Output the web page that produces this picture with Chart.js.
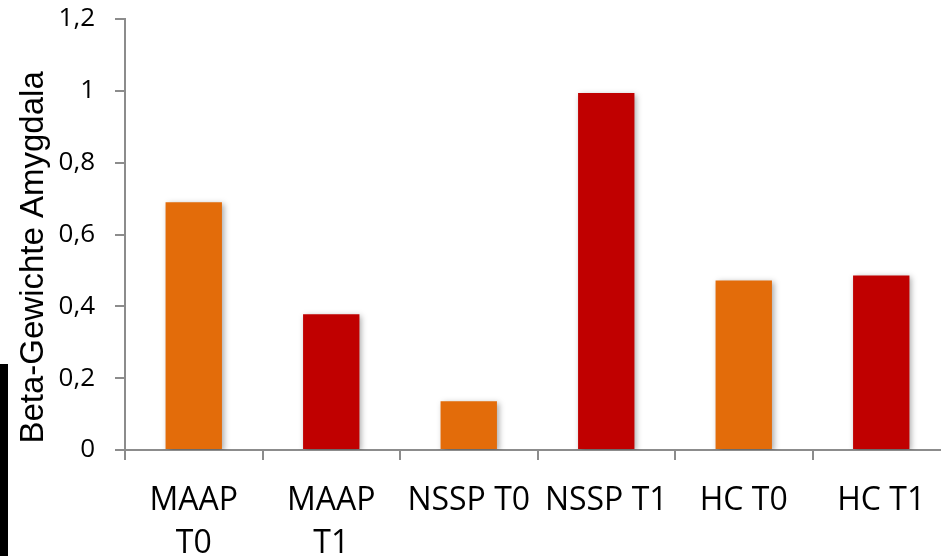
<!DOCTYPE html>
<html><head><meta charset="utf-8">
<script src="https://cdn.jsdelivr.net/npm/chart.js@4/dist/chart.umd.min.js"></script>
<style>
html,body{margin:0;padding:0;background:#fff;overflow:hidden;width:941px;height:556px;}
#wrap{position:absolute;left:0;top:0;width:950px;height:556px;}
</style></head><body>
<div id="wrap"><canvas id="c" width="950" height="556"></canvas></div>
<script>
const categories = [["MAAP","T0"],["MAAP","T1"],"NSSP T0","NSSP T1","HC T0","HC T1"];
const values = [0.69, 0.378, 0.136, 0.994, 0.472, 0.486];
const barColors = ["#E36C0A","#C00000","#E36C0A","#C00000","#E36C0A","#C00000"];
const yTicks = [0,0.2,0.4,0.6,0.8,1,1.2];
const yTitle = "Beta-Gewichte Amygdala";

const shadow = {
  id:'shadow',
  beforeDatasetDraw(chart){const c=chart.ctx;c.save();c.shadowColor='rgba(0,0,0,0.35)';c.shadowBlur=6;c.shadowOffsetX=2;c.shadowOffsetY=2;},
  afterDatasetDraw(chart){chart.ctx.restore();}
};
const strip = {
  id:'strip',
  afterDraw(chart){const c=chart.ctx;c.save();c.fillStyle='#000';c.fillRect(0,364,8,192);c.restore();}
};
const FONT = "'Open Sans', 'Liberation Sans', sans-serif";
const TFONT = "'Liberation Sans', Arial, sans-serif";
new Chart(document.getElementById('c'),{
  type:'bar',
  data:{labels:categories,datasets:[{data:values,backgroundColor:barColors,borderWidth:0,barPercentage:0.82,categoryPercentage:0.5}]},
  options:{
    responsive:false,animation:false,
    layout:{padding:{left:0,right:0,top:19,bottom:0}},
    plugins:{legend:{display:false},tooltip:{enabled:false}},
    scales:{
      y:{min:0,max:1.2,
        afterBuildTicks(s){s.ticks=yTicks.map(v=>({value:v}));},
        afterFit(s){s.width=125;s.paddingTop=0;s.paddingBottom=0;},
        border:{display:true,color:'#8c8c8c',width:2},
        grid:{display:true,drawOnChartArea:false,drawTicks:true,tickLength:10,color:'#8c8c8c',lineWidth:2},
        ticks:{color:'#000',font:{family:FONT,size:26},padding:20,
          callback:(v)=>String(Math.round(v*10)/10).replace('.',',')},
        title:{display:true,text:yTitle+'\u00A0'.repeat(5),color:'#000',font:{family:TFONT,size:33},padding:{top:14,bottom:0}}
      },
      x:{
        afterFit(s){s.height=106;s.paddingLeft=0;s.paddingRight=0;},
        border:{display:true,color:'#8c8c8c',width:2},
        grid:{display:true,drawOnChartArea:false,drawTicks:true,tickLength:10,color:'#8c8c8c',lineWidth:2,offset:true},
        ticks:{color:'#000',font:{family:FONT,size:32,lineHeight:1.35},padding:19,maxRotation:0,autoSkip:false}
      }
    }
  },
  plugins:[shadow,strip]
});
</script></body></html>
